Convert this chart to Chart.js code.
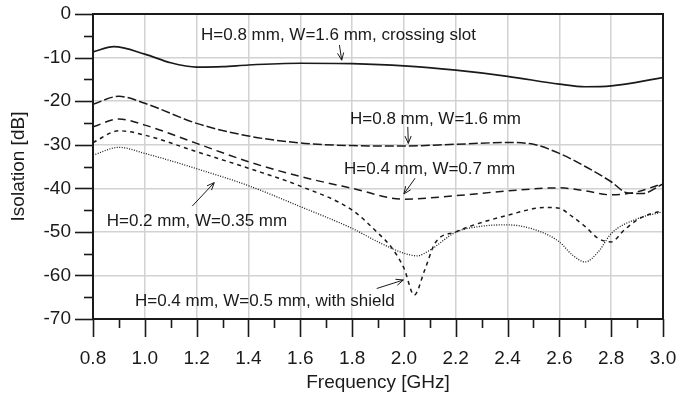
<!DOCTYPE html>
<html>
<head>
<meta charset="utf-8">
<script src="https://cdn.jsdelivr.net/npm/chart.js@4.4.1/dist/chart.umd.min.js"></script>
<style>
  html, body { margin: 0; padding: 0; background: #fff; }
  #wrap { width: 680px; height: 394px; }
</style>
</head>
<body>
<div id="wrap"><canvas id="isoChart" width="680" height="394"></canvas></div>
<script>
// values (GHz / dB)
const slotFreq = [0.8, 0.88, 1.0, 1.1, 1.2, 1.3, 1.4, 1.6, 1.8, 2.0, 2.2, 2.4, 2.6, 2.7, 2.8, 3.0];
const slotIso  = [-8.7, -7.5, -9.2, -11.2, -12.2, -12.1, -11.7, -11.3, -11.4, -11.9, -12.9, -14.3, -16.1, -16.7, -16.5, -14.6];

const wideFreq = [0.8, 0.9, 1.0, 1.2, 1.4, 1.6, 1.8, 2.0, 2.2, 2.4, 2.5, 2.6, 2.7, 2.8, 2.86, 2.92, 3.0];
const wideIso  = [-20.7, -18.9, -20.5, -25.1, -28.0, -29.6, -30.2, -30.3, -29.9, -29.5, -29.9, -32.0, -35.0, -38.5, -41.0, -41.2, -39.0];

const midFreq = [0.8, 0.9, 1.0, 1.2, 1.4, 1.6, 1.8, 2.0, 2.2, 2.4, 2.6, 2.7, 2.8, 2.9, 3.0];
const midIso  = [-25.9, -24.1, -25.5, -29.7, -33.9, -37.3, -40.0, -42.5, -41.7, -40.6, -39.9, -40.6, -41.5, -40.8, -38.9];

const shieldFreq = [0.8, 0.9, 1.0, 1.2, 1.4, 1.6, 1.8, 1.9, 1.95, 2.0, 2.04, 2.08, 2.12, 2.2, 2.4, 2.55, 2.6, 2.65, 2.7, 2.75, 2.8, 2.85, 2.9, 2.95, 3.0];
const shieldIso  = [-29.5, -26.8, -27.8, -31.6, -35.4, -39.5, -45.0, -50.3, -53.4, -58.3, -64.5, -58.8, -52.6, -50.0, -46.2, -44.4, -44.6, -46.5, -48.8, -51.5, -52.3, -49.6, -47.3, -45.9, -45.2];

const thinFreq = [0.8, 0.9, 1.0, 1.2, 1.4, 1.6, 1.8, 1.9, 2.0, 2.05, 2.1, 2.2, 2.3, 2.4, 2.5, 2.6, 2.65, 2.7, 2.75, 2.8, 2.9, 3.0];
const thinIso  = [-32.4, -30.6, -32.0, -35.5, -39.4, -44.2, -49.2, -52.3, -54.9, -55.5, -54.2, -50.1, -48.7, -48.4, -49.4, -52.3, -55.3, -56.9, -54.6, -50.4, -47.0, -45.4];

// annotations: text (left, baseline) and arrow, in data units
const noteText  = ['H=0.8 mm, W=1.6 mm, crossing slot', 'H=0.8 mm, W=1.6 mm', 'H=0.4 mm, W=0.7 mm', 'H=0.2 mm, W=0.35 mm', 'H=0.4 mm, W=0.5 mm, with shield'];
const noteX     = [1.217, 1.792, 1.769, 0.853, 0.962];
const noteY     = [-5.97, -25.3, -36.7, -48.7, -67.0];
const arrowX0   = [1.751, 2.015, 2.043, 1.183, 1.895];
const arrowY0   = [-7.1, -25.9, -37.7, -44.1, -63.0];
const arrowX1   = [1.760, 2.017, 2.000, 1.268, 1.998];
const arrowY1   = [-10.6, -29.7, -41.3, -38.7, -61.05];

const xMin = 0.8, xMax = 3.0, yMin = -70, yMax = 0;

function pts(xs, ys) {
    return xs.map((x, i) => ({ x: x, y: ys[i] }));
}

function isMajorX(v) { return Math.round(v * 10) % 2 === 0; }
function isMajorY(v) { return Math.round(v) % 10 === 0; }

const ink = '#1a1a1a';
const gridGray = '#d2d2d2';

// no extra room for overflowing tick labels, the layout padding decides
function noOverflow(scale) {
    scale.paddingTop = 0;
    scale.paddingBottom = 0;
    scale.paddingLeft = 0;
    scale.paddingRight = 0;
}

// tick marks, frame and annotations
const extrasPlugin = {
    id: 'extras',
    afterDraw(chart) {
        const ctx = chart.ctx;
        const area = chart.chartArea;
        const xs = chart.scales.x, ys = chart.scales.y;
        ctx.save();
        ctx.strokeStyle = ink;
        ctx.lineWidth = 2;
        ctx.beginPath();
        ctx.moveTo(area.left, area.top);
        ctx.lineTo(area.right, area.top);
        ctx.lineTo(area.right, area.bottom);
        ctx.stroke();

        ctx.lineWidth = 1.6;
        ys.ticks.forEach(t => {
            const py = Math.round(ys.getPixelForValue(t.value)) + 0.5;
            const len = isMajorY(t.value) ? 18 : 9;
            ctx.beginPath();
            ctx.moveTo(area.left - len, py);
            ctx.lineTo(area.left, py);
            ctx.stroke();
        });
        xs.ticks.forEach(t => {
            const px = Math.round(xs.getPixelForValue(t.value)) + 0.5;
            const len = isMajorX(t.value) ? 18 : 9;
            ctx.beginPath();
            ctx.moveTo(px, area.bottom);
            ctx.lineTo(px, area.bottom + len);
            ctx.stroke();
        });

        ctx.fillStyle = ink;
        ctx.font = '17px "Liberation Sans", Arial, sans-serif';
        ctx.textAlign = 'left';
        ctx.textBaseline = 'alphabetic';
        ctx.lineWidth = 1;
        noteText.forEach((txt, i) => {
            ctx.fillText(txt, xs.getPixelForValue(noteX[i]), ys.getPixelForValue(noteY[i]));
            const x0 = xs.getPixelForValue(arrowX0[i]), y0 = ys.getPixelForValue(arrowY0[i]);
            const x1 = xs.getPixelForValue(arrowX1[i]), y1 = ys.getPixelForValue(arrowY1[i]);
            const ang = Math.atan2(y1 - y0, x1 - x0);
            ctx.beginPath();
            ctx.moveTo(x0, y0);
            ctx.lineTo(x1, y1);
            ctx.moveTo(x1 - 8 * Math.cos(ang - 0.4), y1 - 8 * Math.sin(ang - 0.4));
            ctx.lineTo(x1, y1);
            ctx.lineTo(x1 - 8 * Math.cos(ang + 0.4), y1 - 8 * Math.sin(ang + 0.4));
            ctx.stroke();
        });
        ctx.restore();
    }
};

function series(xs, ys, dash, width) {
    return {
        data: pts(xs, ys),
        borderColor: ink,
        borderWidth: width,
        borderDash: dash,
        pointRadius: 0,
        fill: false,
        cubicInterpolationMode: 'monotone'
    };
}

new Chart(document.getElementById('isoChart'), {
    type: 'line',
    data: {
        datasets: [
            series(slotFreq, slotIso, [], 1.7),
            series(wideFreq, wideIso, [9, 3], 1.5),
            series(midFreq, midIso, [8, 5], 1.5),
            series(shieldFreq, shieldIso, [4, 4], 1.5),
            series(thinFreq, thinIso, [1, 1.5], 1.3)
        ]
    },
    options: {
        responsive: false,
        animation: false,
        layout: { padding: { top: 14, right: 17, left: 0, bottom: 0 } },
        plugins: { legend: { display: false }, tooltip: { enabled: false } },
        scales: {
            x: {
                type: 'linear',
                min: xMin, max: xMax,
                afterFit(scale) { scale.height = 75; noOverflow(scale); },
                ticks: {
                    stepSize: 0.1,
                    autoSkip: false,
                    maxRotation: 0,
                    padding: 28,
                    color: ink,
                    font: { family: '"Liberation Sans", Arial, sans-serif', size: 19 },
                    callback: v => isMajorX(v) ? v.toFixed(1) : ''
                },
                grid: {
                    drawTicks: false,
                    lineWidth: 1.5,
                    color: c => isMajorX(c.tick.value) ? gridGray : 'rgba(0,0,0,0)'
                },
                border: { display: true, color: ink, width: 2 },
                title: {
                    display: true,
                    text: 'Frequency [GHz]',
                    color: ink,
                    font: { family: '"Liberation Sans", Arial, sans-serif', size: 19 },
                    padding: { top: 0, bottom: 0 }
                }
            },
            y: {
                type: 'linear',
                min: yMin, max: yMax,
                afterFit(scale) { scale.width = 93; noOverflow(scale); },
                ticks: {
                    stepSize: 5,
                    autoSkip: false,
                    padding: 22,
                    color: ink,
                    font: { family: '"Liberation Sans", Arial, sans-serif', size: 19 },
                    callback: v => isMajorY(v) ? String(v) : ''
                },
                grid: {
                    drawTicks: false,
                    lineWidth: 1.5,
                    color: c => isMajorY(c.tick.value) ? gridGray : 'rgba(0,0,0,0)'
                },
                border: { display: true, color: ink, width: 2 },
                title: {
                    display: true,
                    text: 'Isolation [dB]',
                    color: ink,
                    font: { family: '"Liberation Sans", Arial, sans-serif', size: 19 },
                    padding: { top: 7, bottom: 0 }
                }
            }
        }
    },
    plugins: [extrasPlugin]
});
</script>
</body>
</html>
